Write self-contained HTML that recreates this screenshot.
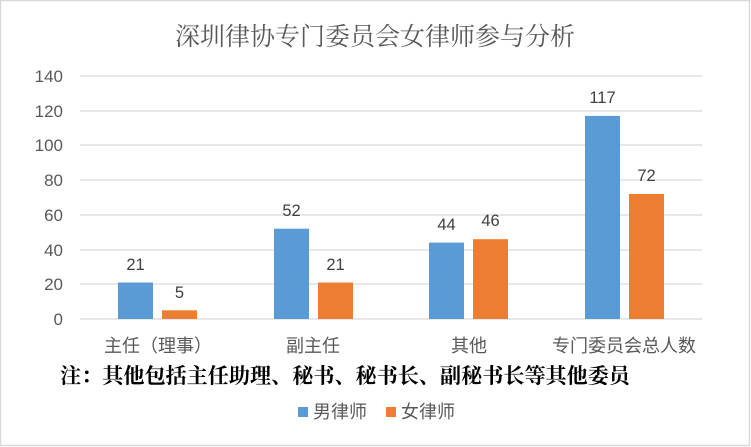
<!DOCTYPE html><html><head><meta charset="utf-8"><style>body{margin:0}svg{display:block}</style></head><body>
<svg width="751" height="447" xmlns="http://www.w3.org/2000/svg" font-family="Liberation Sans, Noto Sans CJK SC, sans-serif">
<rect x="0.5" y="0.5" width="749" height="445" fill="#fff" stroke="#d9d9d9" stroke-width="1.5"/>
<text x="375" y="45" text-anchor="middle" font-size="25" fill="#595959" font-family="Noto Serif CJK SC, serif">深圳律协专门委员会女律师参与分析</text>
<g stroke="#d9d9d9" stroke-width="1.3">
<line x1="80" x2="702" y1="76" y2="76"/><line x1="80" x2="702" y1="111" y2="111"/><line x1="80" x2="702" y1="145" y2="145"/><line x1="80" x2="702" y1="180" y2="180"/><line x1="80" x2="702" y1="215" y2="215"/><line x1="80" x2="702" y1="250" y2="250"/><line x1="80" x2="702" y1="284" y2="284"/><line x1="80" x2="702" y1="319" y2="319"/>
</g>
<g font-size="17" fill="#595959" text-anchor="end">
<text x="63" y="82">140</text><text x="63" y="117">120</text><text x="63" y="151">100</text><text x="63" y="186">80</text><text x="63" y="221">60</text><text x="63" y="256">40</text><text x="63" y="290">20</text><text x="63" y="325">0</text>
</g>
<g fill="#5b9bd5">
<rect x="118" y="282.5" width="35" height="36.5"/><rect x="274" y="228.7" width="35" height="90.3"/><rect x="429" y="242.6" width="35" height="76.4"/><rect x="585" y="115.9" width="35" height="203.1"/>
</g>
<g fill="#ed7d31">
<rect x="162" y="310.3" width="35" height="8.7"/><rect x="318" y="282.5" width="35" height="36.5"/><rect x="473" y="239.2" width="35" height="79.8"/><rect x="629" y="194" width="35" height="125"/>
</g>
<g font-size="16.5" fill="#404040" text-anchor="middle">
<text x="135.5" y="270">21</text><text x="179.5" y="298">5</text>
<text x="291.5" y="216">52</text><text x="335.5" y="270">21</text>
<text x="446.5" y="230">44</text><text x="490.5" y="226">46</text>
<text x="602.5" y="103">117</text><text x="646.5" y="181">72</text>
</g>
<g font-size="18" fill="#595959" text-anchor="middle">
<text x="158" y="352">主任（理事）</text><text x="313" y="352">副主任</text><text x="469" y="352">其他</text><text x="624" y="352">专门委员会总人数</text>
</g>
<text x="60" y="383" font-size="21" font-weight="bold" fill="#000" font-family="Noto Serif CJK SC, serif" textLength="570" lengthAdjust="spacingAndGlyphs">注：其他包括主任助理、秘书、秘书长、副秘书长等其他委员</text>
<rect x="298" y="407" width="10" height="10" fill="#5b9bd5"/><text x="313" y="418" font-size="18" fill="#595959">男律师</text>
<rect x="386" y="407" width="10" height="10" fill="#ed7d31"/><text x="401" y="418" font-size="18" fill="#595959">女律师</text>
</svg>
</body></html>
